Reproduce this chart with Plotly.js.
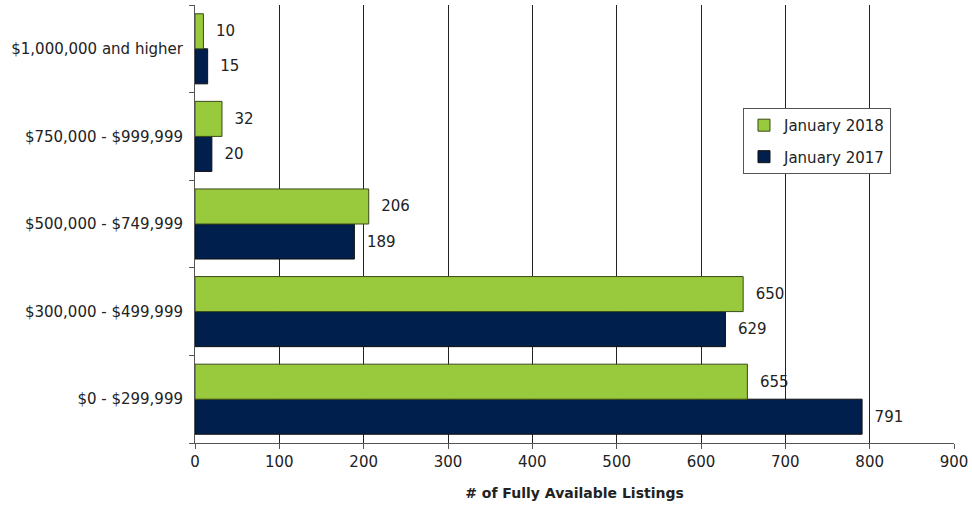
<!DOCTYPE html>
<html><head><meta charset="utf-8">
<script src="https://cdn.plot.ly/plotly-3.0.1.min.js"></script>
<style>html,body{margin:0;padding:0;background:#fff}</style>
</head><body>
<div id="chart" style="width:972px;height:506px"></div>
<script>
const categories = ["$0 - $299,999", "$300,000 - $499,999", "$500,000 - $749,999", "$750,000 - $999,999", "$1,000,000 and higher"];
const jan2017 = [791, 629, 189, 20, 15];
const jan2018 = [655, 650, 206, 32, 10];
const xTicks = [0, 100, 200, 300, 400, 500, 600, 700, 800, 900];

const fontFam = "DejaVu Sans, Verdana, sans-serif";
const traces = [
  {type: "bar", orientation: "h", name: "January 2017", y: categories, x: jan2017,
   texttemplate: "  %{x}", textposition: "outside", cliponaxis: false,
   textfont: {family: fontFam, size: 15, color: "#222"},
   legendgroup: "a", legendrank: 2,
   marker: {color: "#001f4d", line: {color: "#111", width: 1}}},
  {type: "bar", orientation: "h", name: "January 2018", y: categories, x: jan2018,
   texttemplate: "  %{x}", textposition: "outside", cliponaxis: false,
   textfont: {family: fontFam, size: 15, color: "#222"},
   legendgroup: "b", legendrank: 1,
   marker: {color: "#99c93c", line: {color: "#3a4a1a", width: 1}}}
];
const layout = {
  width: 972, height: 506,
  margin: {l: 195, r: 18, t: 5, b: 63},
  paper_bgcolor: "#fff", plot_bgcolor: "#fff",
  barmode: "group", bargap: 0.2, bargroupgap: 0,
  font: {family: fontFam, size: 14, color: "#222"},
  showlegend: true,
  legend: {x: 0.722, y: 0.765, xanchor: "left", yanchor: "top", traceorder: "grouped",
           tracegroupgap: 9,
           bordercolor: "#555", borderwidth: 1, bgcolor: "#fff",
           font: {family: fontFam, size: 15, color: "#222"}, itemwidth: 30},
  xaxis: {range: [0, 900], tickvals: xTicks, ticktext: xTicks.map(String),
          showgrid: true, gridcolor: "#222", gridwidth: 1,
          showline: true, linecolor: "#555", ticks: "outside", ticklen: 5, tickcolor: "#555",
          zeroline: false, tickfont: {size: 15, color: "#222"},
          title: {text: "<b># of Fully Available Listings</b>", font: {size: 14, color: "#222"}, standoff: 18}},
  yaxis: {categoryorder: "array", categoryarray: categories, showgrid: false,
          showline: true, linecolor: "#555", ticks: "outside", ticklen: 5, tickcolor: "#555",
          tickson: "boundaries", ticklabelstandoff: 8,
          tickfont: {size: 15, color: "#222"}}
};
Plotly.newPlot("chart", traces, layout, {displayModeBar: false, staticPlot: true});
</script>
</body></html>
